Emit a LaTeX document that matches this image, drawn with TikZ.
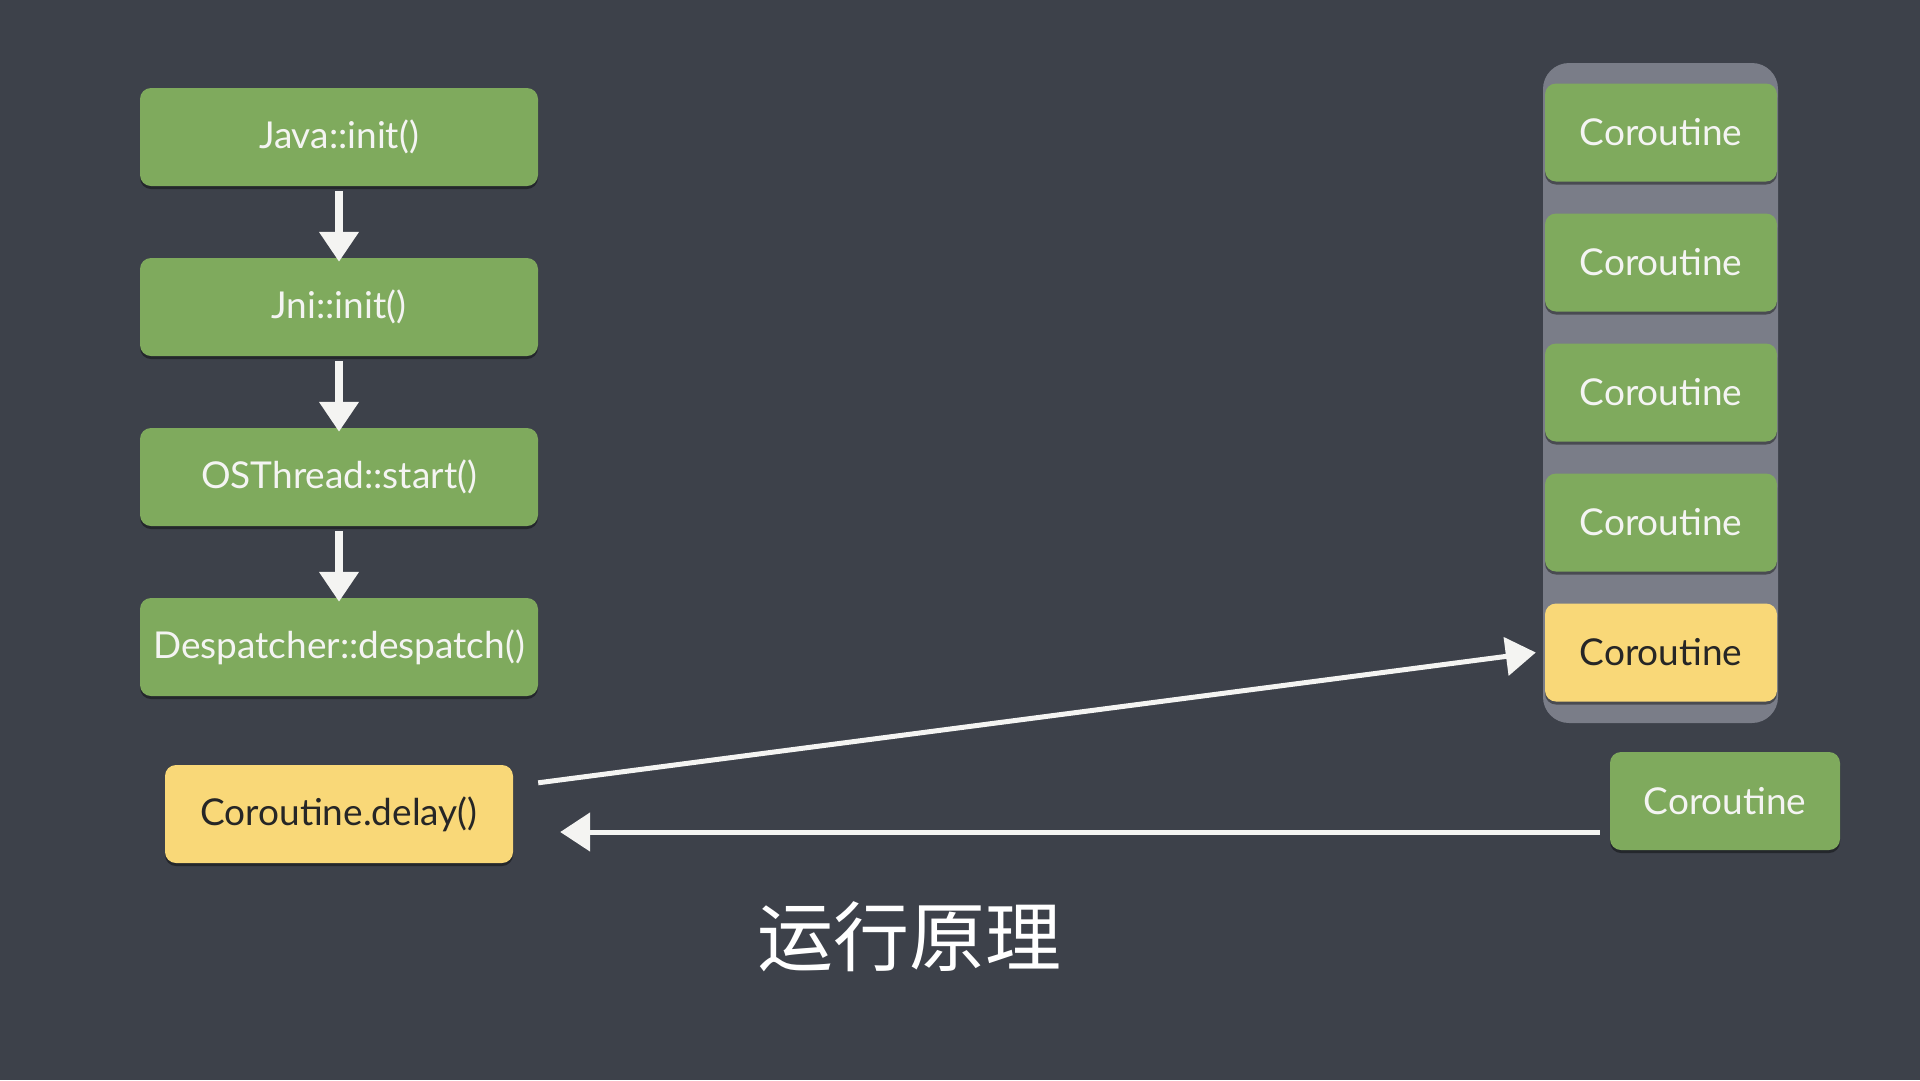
\documentclass[tikz,border=0pt]{standalone}
\usepackage{fontspec}
\setmainfont{Lato}
\newfontfamily\cjk{Noto Sans CJK SC}
\usetikzlibrary{arrows.meta,shadows,calc}
\definecolor{board}{HTML}{3D414A}
\definecolor{boxgreen}{HTML}{7FAA5D}
\definecolor{boxyellow}{HTML}{F9D878}
\definecolor{stackgrey}{HTML}{7A7D88}
\definecolor{chalk}{HTML}{F4F4F2}
\tikzset{
  card/.style={rounded corners=11pt, minimum height=98pt, inner sep=0pt,
    font=\fontsize{37}{42}\selectfont,
    drop shadow={shadow xshift=0pt, shadow yshift=-3pt, opacity=0.4, fill=black}},
  greencard/.style={card, fill=boxgreen, text=chalk},
  yellowcard/.style={card, fill=boxyellow, text=black!85},
  flowarrow/.style={draw=chalk, line width=8pt, -{Triangle[width=38pt,length=30pt]}},
  linkarrow/.style={draw=chalk, line width=5pt, -{Triangle[width=38pt,length=30pt]}},
}
\begin{document}
\begin{tikzpicture}[x=1pt,y=-1pt]
\fill[board] (0,0) rectangle (1920,1080);
\useasboundingbox (0,0) rectangle (1920,1080);

% left column
\node[greencard, minimum width=398pt] (java) at (339,137) {Java::init()};
\node[greencard, minimum width=398pt] (jni) at (339,307) {Jni::init()};
\node[greencard, minimum width=398pt] (os) at (339,477) {OSThread::start()};
\node[greencard, minimum width=398pt] (desp) at (339,647) {Despatcher::despatch()};
\node[yellowcard, minimum width=348pt] (delay) at (339,814) {Coroutine.delay()};

% stack container
\node[fill=stackgrey, rounded corners=26pt, minimum width=235pt, minimum height=660pt,
      inner sep=0pt] (stack) at (1660.5,393) {};

\node[greencard, minimum width=232pt] (c1) at (1661,132.5) {Coroutine};
\node[greencard, minimum width=232pt] (c2) at (1661,262.5) {Coroutine};
\node[greencard, minimum width=232pt] (c3) at (1661,392.5) {Coroutine};
\node[greencard, minimum width=232pt] (c4) at (1661,522.5) {Coroutine};
\node[yellowcard, minimum width=232pt] (c5) at (1661,652.5) {Coroutine};

\node[greencard, minimum width=230pt] (cnew) at (1725,801) {Coroutine};

% vertical flow arrows
\draw[flowarrow, shorten <=5pt, shorten >=-4pt] (java.south) -- (jni.north);
\draw[flowarrow, shorten <=5pt, shorten >=-4pt] (jni.south) -- (os.north);
\draw[flowarrow, shorten <=5pt, shorten >=-4pt] (os.south) -- (desp.north);

% links
\coordinate (dstart) at ($(delay.north east)+(25,18)$);
\coordinate (dend) at ($(c5.west)+(-9,0)$);
\draw[linkarrow] (dstart) -- (dend);

\coordinate (hstart) at ($(cnew.west)+(-10,31)$);
\coordinate (hend) at ($(delay.east)+(47,18)$);
\draw[linkarrow] (hstart) -- (hend);

% title
\node[text=white, font=\cjk\fontsize{76}{80}\selectfont, inner sep=0pt] (title) at (909,937) {运行原理};
\end{tikzpicture}
\end{document}
